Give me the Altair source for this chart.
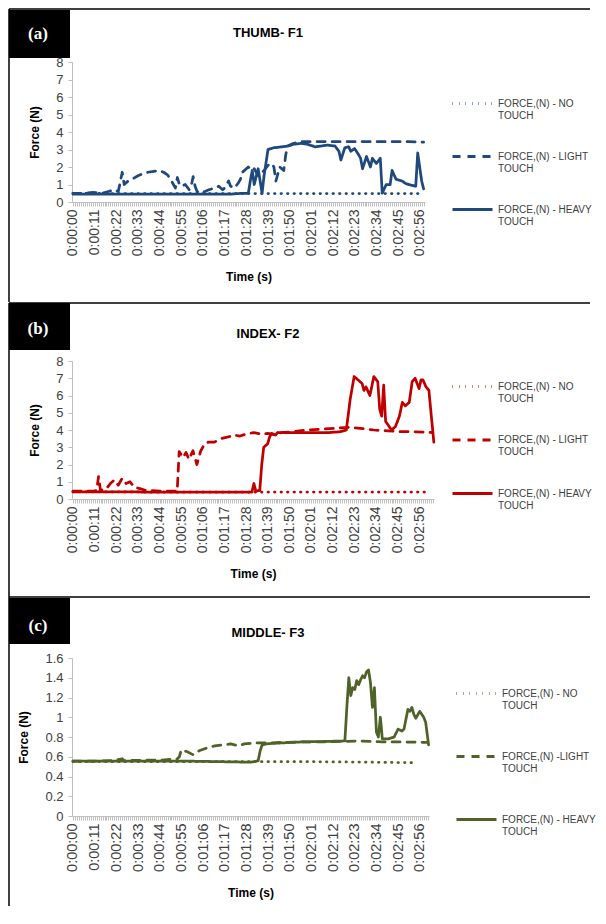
import altair as alt
import pandas as pd

# ---------------- data ----------------
SERIES_AB = ["FORCE,(N) - NO TOUCH", "FORCE,(N) - LIGHT TOUCH", "FORCE,(N) - HEAVY TOUCH"]
SERIES_C = ["FORCE,(N) - NO TOUCH", "FORCE,(N) -LIGHT TOUCH", "FORCE,(N) - HEAVY TOUCH"]

# (time in s, force in N)
A_NO = [(0, 0.5), (20, 0.48), (40, 0.48), (60, 0.48), (80, 0.48), (100, 0.48), (120, 0.48),
        (140, 0.48), (160, 0.48), (178, 0.48)]
A_LIGHT = [(0, 0.5), (5, 0.5), (10, 0.55), (15, 0.5), (18, 0.6), (21, 0.7), (23, 0.6), (25, 1.7),
           (26, 1.0), (28, 1.2), (30, 1.3), (33, 1.5), (35, 1.6), (38, 1.7), (41, 1.75), (44, 1.8),
           (46, 1.7), (48, 1.55), (50, 1.2), (51, 1.0), (52, 0.8), (53, 1.4), (54, 1.0), (55, 0.9),
           (57, 1.0), (59, 0.7), (60, 0.9), (61, 1.45), (62, 0.9), (63, 0.6), (65, 0.5), (67, 0.6),
           (69, 0.7), (72, 0.8), (74, 0.9), (76, 0.7), (77, 0.8), (79, 1.2), (80, 0.9), (82, 0.8),
           (84, 1.1), (85, 1.3), (86, 1.7), (88, 1.9), (89, 2.0), (91, 1.8), (92, 1.9), (94, 1.5),
           (95, 1.6), (97, 1.8), (99, 2.1), (101, 2.2), (102, 2.0), (103, 1.2), (104, 1.6), (105, 2.0),
           (107, 1.8), (108, 2.7), (109, 3.2), (112, 3.35), (116, 3.45), (130, 3.45), (150, 3.45),
           (170, 3.45), (178, 3.42)]
A_HEAVY = [(0, 0.45), (10, 0.45), (20, 0.45), (30, 0.45), (40, 0.45), (50, 0.45), (60, 0.45),
           (70, 0.45), (80, 0.45), (86, 0.5), (89, 0.5), (90, 1.2), (91, 1.8), (92, 1.0), (94, 1.9),
           (95, 1.2), (96, 0.5), (97, 1.5), (99, 3.0), (102, 3.1), (106, 3.15), (109, 3.2), (112, 3.3),
           (116, 3.35), (119, 3.3), (123, 3.15), (126, 3.2), (129, 3.25), (133, 3.2), (135, 2.9),
           (136, 2.4), (138, 3.1), (140, 3.15), (141, 2.9), (143, 3.05), (145, 2.7), (146, 2.5),
           (147, 1.9), (149, 2.6), (151, 2.0), (152, 2.5), (154, 2.2), (156, 2.5), (157, 0.5),
           (159, 1.0), (161, 1.0), (162, 1.8), (164, 1.3), (167, 1.2), (169, 1.05), (172, 0.95),
           (174, 0.9), (175, 2.8), (177, 1.2), (178, 0.75)]

B_NO = [(0, 0.42), (20, 0.42), (40, 0.4), (60, 0.4), (80, 0.4), (100, 0.4), (120, 0.4),
        (140, 0.4), (160, 0.4), (181, 0.4)]
B_LIGHT = [(0, 0.45), (10, 0.45), (12, 0.5), (13, 1.3), (14, 0.5), (17, 0.6), (19, 0.9), (21, 1.1),
           (23, 0.8), (25, 1.2), (27, 0.9), (29, 1.0), (31, 0.7), (34, 0.6), (37, 0.5), (45, 0.45),
           (53, 0.45), (54, 2.75), (56, 2.4), (57.5, 2.7), (59, 2.3), (61, 2.8), (63, 2.0), (65, 2.8),
           (67, 3.2), (69, 3.3), (72, 3.3), (75, 3.5), (79, 3.6), (82, 3.7), (85, 3.65), (89, 3.8),
           (92, 3.85), (96, 3.75), (99, 3.8), (102, 3.75), (106, 3.85), (112, 3.9), (119, 4.0),
           (126, 4.05), (133, 4.1), (140, 4.15), (146, 4.1), (153, 4.0), (160, 3.95), (167, 3.9),
           (173, 3.9), (183, 3.85)]
B_HEAVY = [(0, 0.42), (20, 0.42), (40, 0.4), (60, 0.4), (80, 0.4), (91, 0.4), (92, 0.9), (93, 0.45),
           (95, 0.5), (96, 2.0), (97, 3.0), (99, 3.2), (100, 3.6), (101, 3.8), (103, 3.7), (104, 3.85),
           (110, 3.85), (120, 3.85), (130, 3.85), (136, 3.9), (139, 4.0), (141, 5.8), (143, 7.1),
           (145, 6.9), (147, 6.7), (148, 6.3), (149, 6.5), (151, 6.0), (153, 7.1), (155, 6.8),
           (156, 5.2), (157, 4.8), (158, 6.6), (159, 4.5), (162, 4.0), (164, 4.2), (166, 4.8),
           (167.5, 5.6), (169, 5.4), (171, 5.6), (172.5, 6.8), (174, 7.0), (175, 6.7), (176, 6.4),
           (177, 6.9), (178, 6.9), (179.5, 6.5), (181, 6.3), (183.5, 3.3)]

C_NO = [(0, 0.55), (40, 0.55), (80, 0.55), (120, 0.55), (150, 0.545), (173, 0.54)]
C_LIGHT = [(0, 0.555), (10, 0.555), (20, 0.56), (25, 0.58), (26, 0.56), (35, 0.565), (45, 0.565),
           (53, 0.58), (54, 0.6), (55, 0.67), (58, 0.65), (61, 0.62), (64, 0.66), (68, 0.69),
           (72, 0.71), (76, 0.72), (80, 0.73), (84, 0.71), (87, 0.73), (92, 0.74), (99, 0.74),
           (106, 0.745), (116, 0.75), (126, 0.75), (136, 0.755), (146, 0.76), (157, 0.75),
           (167, 0.75), (180, 0.745)]
C_HEAVY = [(0, 0.555), (20, 0.555), (40, 0.555), (60, 0.555), (75, 0.55), (90, 0.545), (92, 0.55),
           (94, 0.56), (95, 0.66), (96, 0.72), (98, 0.73), (101, 0.735), (106, 0.74), (116, 0.75),
           (128, 0.755), (138, 0.76), (139, 1.1), (140, 1.4), (141, 1.22), (142, 1.3), (143, 1.28),
           (144, 1.37), (145, 1.33), (146, 1.38), (147, 1.42), (148, 1.4), (149, 1.46), (150, 1.48),
           (151, 1.35), (152, 1.1), (153, 1.3), (154, 0.85), (155, 0.8), (156, 1.0), (156.5, 0.9),
           (157, 0.78), (160, 0.78), (163, 0.8), (165, 0.88), (167, 0.86), (168, 0.88), (170, 1.08),
           (171, 1.06), (172, 1.1), (173, 1.03), (174, 0.99), (176, 1.06), (178, 1.0), (179, 0.95),
           (180.5, 0.72)]

Y_TICKS_AB = [0, 1, 2, 3, 4, 5, 6, 7, 8]
Y_TICKS_C = [0, 0.2, 0.4, 0.6, 0.8, 1.0, 1.2, 1.4, 1.6]
X_LABEL_STEP = 11  # a label every 11 s: 0:00:00, 0:00:11, ... 0:02:56

BLUE = "#1F497D"
RED = "#C00000"
GREEN = "#4F6228"
DASHES = [[0.5, 6], [8, 7], [1, 0]]

FONT = "Liberation Sans"

TIME_EXPR = ("datum.value % " + str(X_LABEL_STEP) + " === 0 ? '0:0' + floor(datum.value / 60) + ':' + "
             "(datum.value % 60 < 10 ? '0' : '') + (datum.value % 60) : ''")
LEG_EXPR = "[replace(datum.label, ' TOUCH', ''), 'TOUCH']"


def frame(names, lists):
    rows = []
    for name, pts in zip(names, lists):
        for t, v in pts:
            rows.append({"t": t, "v": v, "series": name})
    return pd.DataFrame(rows)


def panel(df, names, color, xmax, width, height, ydom, yticks, yfmt, xfs, tag, title,
          leg, deco, use_encode):
    top, boxtop, boxbot, tagy, titley, leftbot = deco
    lx, ly, rowpad = leg
    lkw = dict(orient="none", legendX=lx, legendY=ly, direction="vertical", title=None,
               symbolType="stroke", symbolSize=1600, symbolStrokeWidth=3,
               symbolStrokeColor=color, labelFont=FONT, labelFontSize=10,
               labelColor="#404040", labelLimit=200, rowPadding=rowpad, labelOffset=4,
               padding=0, labelExpr=LEG_EXPR)
    if use_encode:
        lkw["encode"] = {"symbols": {"update": {"strokeCap": {"value": "round"}}},
                         "labels": {"update": {"lineHeight": {"value": 15}}}}
    xvals = list(range(0, int(xmax) + 1))
    lines = alt.Chart(df).mark_line(color=color, strokeWidth=2.75, strokeCap="round",
                                    strokeJoin="round").encode(
        x=alt.X("t:Q", scale=alt.Scale(domain=[-0.5, xmax], nice=False, zero=False),
                axis=alt.Axis(values=xvals, labelExpr=TIME_EXPR, labelAngle=270,
                              labelAlign="right", labelBaseline="middle", labelOverlap=False,
                              labelFontSize=xfs, labelPadding=3, tickSize=4,
                              title="Time (s)", titlePadding=16)),
        y=alt.Y("v:Q", scale=alt.Scale(domain=ydom, nice=False),
                axis=alt.Axis(values=yticks, format=yfmt, labelFontSize=13, labelPadding=5,
                              tickSize=4, title="Force (N)", titlePadding=14)),
        strokeDash=alt.StrokeDash("series:N", scale=alt.Scale(domain=names, range=DASHES),
                                  legend=alt.Legend(**lkw)),
    )
    d = pd.DataFrame({"k": [0]})
    topline = alt.Chart(d).mark_rule(color="black", strokeWidth=1.5).encode(
        x=alt.value(-63), x2=alt.value(518), y=alt.value(top))
    leftline = alt.Chart(d).mark_rule(color="black", strokeWidth=1.5).encode(
        x=alt.value(-63), y=alt.value(top), y2=alt.value(leftbot))
    box = alt.Chart(d).mark_rect(color="black").encode(
        x=alt.value(-63), x2=alt.value(-2), y=alt.value(boxtop), y2=alt.value(boxbot))
    tagt = alt.Chart(d).mark_text(text=tag, color="white", font="Liberation Serif",
                                  fontSize=17, fontWeight="bold", align="center",
                                  baseline="middle").encode(x=alt.value(-34), y=alt.value(tagy))
    titlet = alt.Chart(d).mark_text(text=title, color="black", font=FONT, fontSize=13,
                                    fontWeight="bold", align="center",
                                    baseline="middle").encode(x=alt.value(196), y=alt.value(titley))
    return alt.layer(topline, leftline, box, tagt, titlet, lines).properties(
        width=width, height=height)


def build(use_encode):
    pa = panel(frame(SERIES_AB, [A_NO, A_LIGHT, A_HEAVY]), SERIES_AB, BLUE, 178.7, 353, 140,
               [0, 8], Y_TICKS_AB, "d", 14, "(a)", "THUMB- F1",
               (379, 20, 14), (-53, -52, -4, -28, -29, 240), use_encode)
    pb = panel(frame(SERIES_AB, [B_NO, B_LIGHT, B_HEAVY]), SERIES_AB, RED, 183.6, 362, 138,
               [0, 8], Y_TICKS_AB, "d", 14, "(b)", "INDEX- F2",
               (379, 4, 14.5), (-58, -58, -11, -32, -27, 236), use_encode)
    pc = panel(frame(SERIES_C, [C_NO, C_LIGHT, C_HEAVY]), SERIES_C, GREEN, 180.7, 357, 158,
               [0, 1.6], Y_TICKS_C, ".1~f", 14.5, "(c)", "MIDDLE- F3",
               (383, 14, 24), (-61, -60, -14, -32, -25, 248), use_encode)
    ch = alt.vconcat(pa, pb, pc, spacing=159, bounds="flush").resolve_scale(
        x="independent", y="independent", strokeDash="independent").resolve_legend(
        strokeDash="independent").resolve_axis(x="independent", y="independent")
    ch = ch.properties(padding=0).configure_view(stroke=None).configure_axis(
        labelFont=FONT, labelColor="#404040", domainColor="#BFBFBF", tickColor="#BFBFBF",
        titleFont=FONT, titleFontWeight="bold", titleColor="black", titleFontSize=12, grid=False)
    return ch


try:
    chart = build(True)
    chart.to_dict()
except Exception:
    chart = build(False)

chart.save("out.html", embed_options={"renderer": "svg", "actions": False})
